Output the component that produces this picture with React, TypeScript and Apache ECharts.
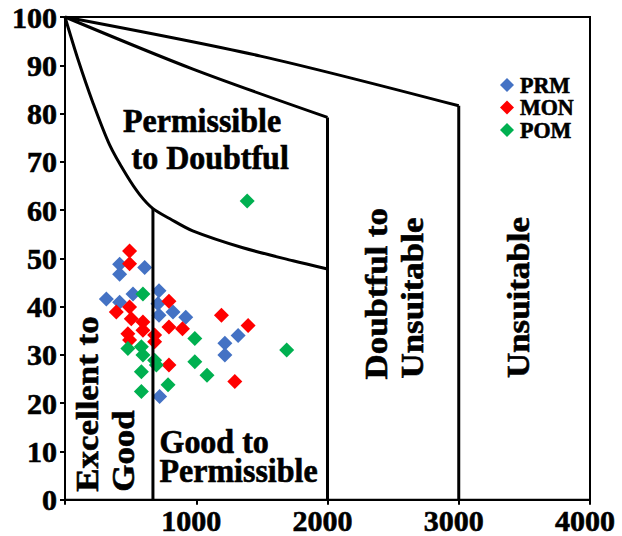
import React, { useEffect, useRef } from "react";
import * as echarts from "echarts";

const seriesNames = ["PRM", "MON", "POM"];
const seriesColors = ["#4472C4", "#FF0000", "#00B050"];

const prmX = [416, 416, 607, 315, 518, 416, 716, 708, 823, 716, 920, 1319, 1218, 1218, 721];
const prmY = [48.8, 46.7, 48.1, 41.6, 42.6, 40.9, 43.3, 40.6, 38.9, 38.2, 37.8, 34.0, 32.4, 30.0, 21.4];

const monX = [492, 492, 792, 1192, 1395, 391, 492, 505, 594, 479, 594, 683, 792, 895, 492, 683, 792, 1294];
const monY = [51.5, 48.9, 41.1, 38.2, 36.1, 38.9, 39.9, 37.5, 36.8, 34.4, 35.1, 34.1, 35.8, 35.4, 33.1, 32.7, 27.9, 24.5];

const pomX = [594, 989, 1689, 989, 1082, 479, 582, 594, 683, 696, 582, 582, 785, 1388];
const pomY = [42.6, 33.4, 31.0, 28.6, 25.8, 31.3, 31.7, 30.0, 28.9, 27.9, 26.5, 22.4, 23.8, 61.9];

// Boundary lines of the diagram
const curveX = [0, 98, 212, 340, 467, 569, 670, 800, 973, 1355, 1737, 2000];
const curveY = [100, 91.3, 82.3, 73.5, 67.3, 63.2, 60.3, 58.2, 55.7, 52.2, 49.5, 47.8];
const line2X = [0, 975, 2000];
const line2Y = [100, 89.2, 79.2];
const line3X = [0, 1490, 3000];
const line3Y = [100, 91.9, 81.6];
const vLineX = [670, 2000, 3000];
const vLineTop = [60.3, 79.2, 81.6];

const yTicks = [0, 10, 20, 30, 40, 50, 60, 70, 80, 90, 100];
const xTicks = [0, 1000, 2000, 3000, 4000];

const FONT = "'Liberation Serif', 'Times New Roman', serif";

function zip(xs: number[], ys: number[]) {
  return xs.map((x, i) => [x, ys[i]]);
}

export default function App() {
  const ref = useRef<HTMLDivElement>(null);
  useEffect(() => {
    if (!ref.current) return;
    const chart = echarts.init(ref.current, undefined, { renderer: "svg" });
    const lineStyle = { color: "#000", width: 3 };
    const boundary = (data: number[][], smooth: number | boolean) => ({
      type: "line",
      data,
      showSymbol: false,
      symbol: "none",
      smooth,
      silent: true,
      z: 5,
      lineStyle,
    });
    const series: any[] = [
      ...[zip(prmX, prmY), zip(monX, monY), zip(pomX, pomY)].map((d, i) => ({
        name: seriesNames[i],
        type: "scatter",
        symbol: "diamond",
        symbolSize: 15,
        itemStyle: { color: seriesColors[i], opacity: 1 },
        data: d,
        z: 2,
      })),
      boundary(zip(curveX, curveY), 0.3),
      boundary(zip(line2X, line2Y), 0.3),
      boundary(zip(line3X, line3Y), 0.3),
      ...vLineX.map((x, i) => boundary([[x, 0], [x, vLineTop[i]]], false)),
    ];
    const txt = (text: string, x: number, y: number, size: number, extra: any = {}) => ({
      type: "text",
      x,
      y,
      silent: true,
      z: 10,
      ...extra,
      style: {
        text,
        font: `bold ${size}px ${FONT}`,
        fill: "#000",
        stroke: "#000",
        lineWidth: 0.6,
        textAlign: "left",
        textVerticalAlign: "middle",
      },
    });
    const rot = { rotation: Math.PI / 2, scaleX: 1.09 };
    const hor = { scaleY: 1.05 };
    const legendItems: any[] = [];
    seriesNames.forEach((name, i) => {
      const cy = 85 + i * 22.5;
      legendItems.push({
        type: "polygon",
        silent: true,
        z: 10,
        shape: {
          points: [
            [507, cy - 7],
            [514, cy],
            [507, cy + 7],
            [500, cy],
          ],
        },
        style: { fill: seriesColors[i] },
      });
      legendItems.push(txt(name, 520, cy, 22, { scaleY: 1.08 }));
    });
    chart.setOption({
      animation: false,
      backgroundColor: "#fff",
      grid: {
        left: 65,
        right: 32,
        top: 17,
        bottom: 32,
        show: true,
        borderColor: "#000",
        borderWidth: 2,
        backgroundColor: "transparent",
      },
      legend: { show: false, data: seriesNames },
      xAxis: {
        type: "value",
        min: xTicks[0],
        max: xTicks[xTicks.length - 1],
        interval: 1000,
        splitLine: { show: false },
        axisLine: { show: true, onZero: false, lineStyle: { color: "#000", width: 2 } },
        axisTick: { show: true, length: 5, lineStyle: { color: "#000", width: 2 } },
        axisLabel: {
          margin: 6,
          fontFamily: FONT,
          fontWeight: "bold",
          fontSize: 30,
          color: "#000",
          textBorderColor: "#000",
          textBorderWidth: 0.6,
          padding: [0, 10, 0, 0],
          formatter: (v: number) => (v === 0 ? "" : String(v)),
        },
      },
      yAxis: {
        type: "value",
        min: yTicks[0],
        max: yTicks[yTicks.length - 1],
        interval: 10,
        splitLine: { show: false },
        axisLine: { show: true, onZero: false, lineStyle: { color: "#000", width: 2 } },
        axisTick: { show: true, length: 5, lineStyle: { color: "#000", width: 2 } },
        axisLabel: {
          margin: 8,
          fontFamily: FONT,
          fontWeight: "bold",
          fontSize: 30,
          color: "#000",
          textBorderColor: "#000",
          textBorderWidth: 0.6,
        },
      },
      series,
      graphic: [
        txt("Permissible", 123, 121, 32, hor),
        txt("to Doubtful", 131.5, 157.5, 32, hor),
        txt("Good to", 159.5, 441.7, 32, hor),
        txt("Permissible", 159.5, 470.8, 32, hor),
        txt("Excellent to", 87, 491.7, 32, rot),
        txt("Good", 123, 491.7, 32, rot),
        txt("Doubtful to", 376.5, 379.5, 32, rot),
        txt("Unsuitable", 412.5, 378.5, 32, rot),
        txt("Unsuitable", 518.5, 378, 32, rot),
        ...legendItems,
      ],
    });
    return () => chart.dispose();
  }, []);
  return (
    <div
      ref={ref}
      style={{ position: "fixed", left: 0, top: 0, width: 622, height: 536, background: "#fff" }}
    />
  );
}
